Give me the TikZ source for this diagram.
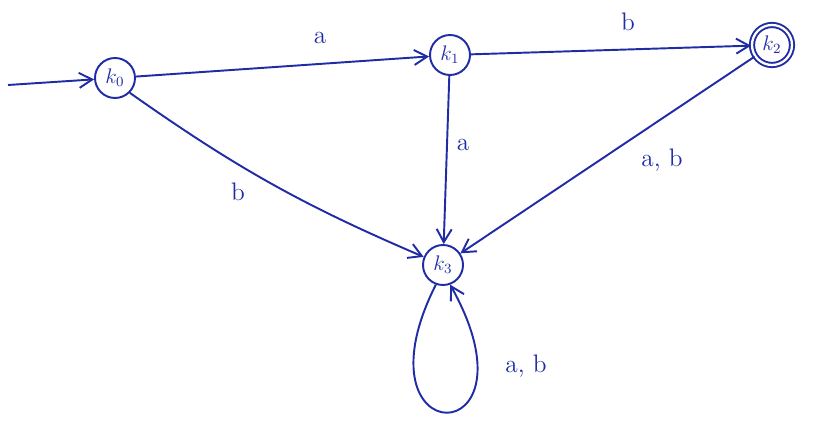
\documentclass[tikz,border=0pt]{standalone}
\usepackage{amsmath,amssymb}
\usetikzlibrary{arrows.meta,positioning,calc}
\definecolor{pen}{RGB}{32,44,165}
\tikzset{
  state/.style={circle,draw=pen,line width=1.1pt,minimum size=8mm,inner sep=1pt,text=pen,font=\large},
  accept/.style={state,double,double distance=1.3pt},
  trans/.style={-{Straight Barb[length=2.6mm,width=3mm]},draw=pen,line width=1.1pt},
  lbl/.style={text=pen,font=\Large}
}

\begin{document}
\begin{tikzpicture}[x=0.2mm,y=-0.2mm]
  \useasboundingbox (0,0) rectangle (818,428);
  \node[state] (k0) at (115,78) {$k_0$};
  \node[state] (k1) at (450,55) {$k_1$};
  \node[accept] (k2) at (772,45) {$k_2$};
  \node[state] (k3) at (443,265) {$k_3$};
  \coordinate (start) at (8,85);
  \draw[trans] (start)--(k0);
  \draw[trans] (k0)--(k1);
  \draw[trans] (k1)--(k2);
  \draw[trans] (k1)--(k3);
  \draw[trans] (k0.south east) to[bend right=6] (k3);
  \draw[trans] (k2)--(k3);
  \draw[trans] (k3.250) .. controls (350,455) and (545,455) .. (k3.290);
  \node[lbl] (la1) at (320,38) {a};
  \node[lbl] (lb1) at (628,22) {b};
  \node[lbl] (la2) at (463,145) {a};
  \node[lbl] (lb2) at (238,192) {b};
  \node[lbl] (lab1) at (662,160) {a, b};
  \node[lbl] (lab2) at (526,366) {a, b};
\end{tikzpicture}
\end{document}
